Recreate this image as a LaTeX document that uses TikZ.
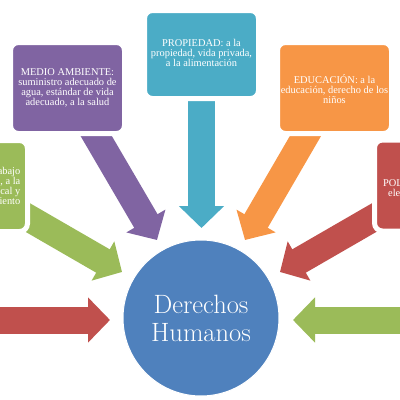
\documentclass[tikz,border=0pt]{standalone}
\usepackage{fontspec}
\newfontfamily\boxfont{Liberation Serif}
\usetikzlibrary{arrows.meta}
\definecolor{cpurple}{HTML}{8064A2}
\definecolor{cteal}{HTML}{4BACC6}
\definecolor{corange}{HTML}{F79646}
\definecolor{cgreen}{HTML}{9BBB59}
\definecolor{cred}{HTML}{C0504D}
\definecolor{cblue}{HTML}{4F81BD}
\tikzset{
  fat/.style={line width=27pt, draw=#1, -{Triangle[width=44pt,length=22pt]}},
  box/.style={draw=white, line width=5pt, fill=#1, rounded corners=8pt,
    minimum width=114pt, minimum height=91pt, inner sep=0pt},
  boxtext/.style={text=white, font=\boxfont\fontsize{10.4}{10}\selectfont, align=center, inner sep=0pt},
}
\begin{document}
\begin{tikzpicture}[x=1pt,y=-1pt]
\useasboundingbox (0,0) rectangle (400,400);
\clip (0,0) rectangle (400,400);
% tips and tails
\coordinate (tp1) at (84.9,116.7);  \coordinate (hp1) at (157,240);
\coordinate (tp2) at (201.5,80);    \coordinate (hp2) at (201.5,228);
\coordinate (tp3) at (316.1,117.7); \coordinate (hp3) at (245,240);
\coordinate (tp4) at (0,201.5);     \coordinate (hp4) at (122,272);
\coordinate (tp5) at (402,201.5);   \coordinate (hp5) at (280,272);
\coordinate (tp6) at (-10,320);     \coordinate (hp6) at (110,320);
\coordinate (tp7) at (410,320);     \coordinate (hp7) at (293,320);
% arrows
\draw[fat=cpurple] (tp1) -- (hp1);
\draw[fat=cteal]   (tp2) -- (hp2);
\draw[fat=corange] (tp3) -- (hp3);
\draw[fat=cgreen]  (tp4) -- (hp4);
\draw[fat=cred]    (tp5) -- (hp5);
\draw[fat=cred]    (tp6) -- (hp6);
\draw[fat=cgreen]  (tp7) -- (hp7);
% boxes
\node[box=cpurple] (medio) at (67.5,88) {};
\node[box=cteal, minimum height=88pt] (prop) at (201.5,54.5) {};
\node[box=corange] (edu) at (334.5,88) {};
\node[box=cgreen] (trab) at (-29.5,186) {};
\node[box=cred] (pol) at (431.5,185.5) {};
% texts
\node[boxtext] (medioT) at (medio.center) {MEDIO AMBIENTE:\\suministro adecuado de\\agua, estándar de vida\\adecuado, a la salud};
\node[boxtext] (propT) at (201.5,53) {PROPIEDAD: a la\\propiedad, vida privada,\\a la alimentación};
\node[boxtext] (eduT) at (334.5,89) {EDUCACIÓN: a la\\educación, derecho de los\\niños};
\node[boxtext, anchor=east, align=right] (trabT) at (20.5,187) {TRABAJO: derecho al trabajo\\a la seguridad social, a la\\libertad sindical y\\al descanso y esparcimiento};
\node[boxtext, anchor=north west, align=left] (polT) at (383,177) {POLÍTICOS: a votar\\\hspace*{5pt}elegir y ser elegido};
% circle
\node[circle, fill=cblue, draw=white, line width=1pt, minimum size=156pt, inner sep=0pt,
  text=white, font=\fontsize{26.5}{28}\selectfont, align=center] (dh) at (201,318) {Derechos\\Humanos};
\end{tikzpicture}
\end{document}
